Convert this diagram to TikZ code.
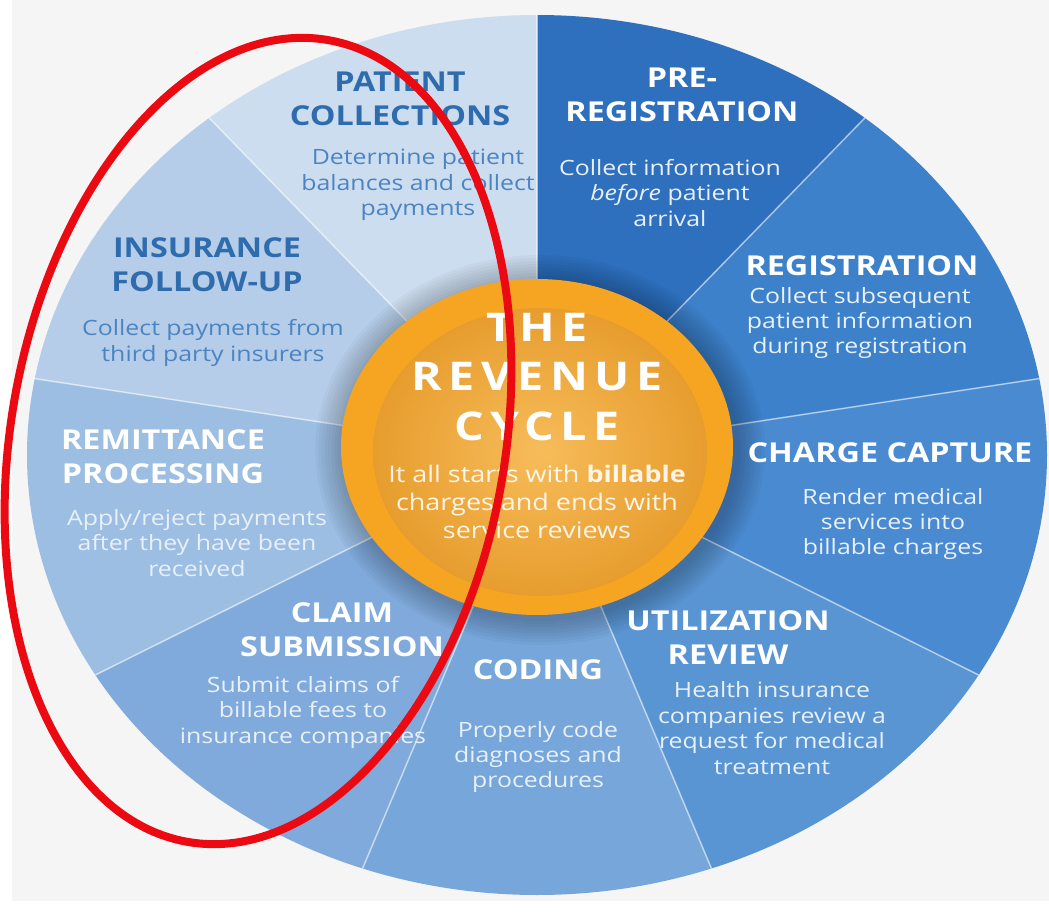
\documentclass[tikz,border=0pt]{standalone}
\usepackage{fontspec}
\setmainfont{Open Sans}[FakeStretch=1.18]
\usetikzlibrary{calc}
\definecolor{bgc}{HTML}{F5F5F5}
\definecolor{cPre}{HTML}{2E6FBE}
\definecolor{cReg}{HTML}{3C81CA}
\definecolor{cChg}{HTML}{4A8AD0}
\definecolor{cUti}{HTML}{5A95D3}
\definecolor{cCod}{HTML}{76A6DA}
\definecolor{cClm}{HTML}{80AADB}
\definecolor{cRem}{HTML}{9CBEE3}
\definecolor{cIns}{HTML}{B5CDE8}
\definecolor{cPat}{HTML}{CCDDEF}
\definecolor{tBlue}{HTML}{2F6CAE}
\definecolor{dBlue}{HTML}{4C84C2}
\definecolor{dWhite}{HTML}{E8F0F9}
\definecolor{orOut}{HTML}{F6A523}
\definecolor{orIn}{HTML}{F7BC5A}
\definecolor{orRim}{HTML}{E79D2E}
\definecolor{redL}{HTML}{EC0A12}
\begin{document}
\begin{tikzpicture}[x=0.02cm,y=-0.02cm,
  ttl/.style={font=\bfseries\fontsize{15.6}{19.3}\selectfont, align=center, inner sep=0pt, text=white},
  ttlb/.style={ttl, text=tBlue},
  dsc/.style={font=\fontsize{12}{14.5}\selectfont, align=center, inner sep=0pt, text=dWhite},
  dscb/.style={dsc, text=dBlue},
  big/.style={font=\bfseries\fontsize{22.5}{28}\selectfont\addfontfeatures{LetterSpace=16}, inner sep=0pt, text=white},
  sub/.style={font=\fontsize{13}{15.9}\selectfont, align=center, inner sep=0pt, text=white, text opacity=0.88},
  sep/.style={draw=white, draw opacity=0.55, line width=0.03cm}]
\useasboundingbox (0,0) rectangle (1049,913);
\fill[white] (0,0) rectangle (1049,913);
\fill[bgc] (12,0) rectangle (1049,901);
% slices
\begin{scope}[shift={(537,455)}]
\foreach \a/\b/\c in {-90/-50/cPre,-50/-10/cReg,-10/30/cChg,30/70/cUti,70/110/cCod,110/150/cClm,150/190/cRem,190/230/cIns,230/270/cPat}
  \fill[\c] (0,0) -- (\a:510 and 440) arc[start angle=\a, end angle=\b, x radius=510, y radius=440] -- cycle;
\foreach \a in {-90,-50,-10,30,70,110,150,190,230}
  \draw[sep] (0,0) -- (\a:510 and 440);
\end{scope}
% shadow around the orange disc
\foreach \r in {1,...,9}
  \fill[black, opacity=0.028] (540,450) ellipse [x radius={196+\r*3.2}, y radius={168+\r*3}];
% orange disc
\fill[orOut] (537,447) ellipse [x radius=196, y radius=168];
\shade[inner color=orIn, outer color=orRim] (540,452) ellipse [x radius=167, y radius=144];
% centre texts
\node[big] (tthe) at (537,327) {THE};
\node[big] (trev) at (537,377) {REVENUE};
\node[big] (tcyc) at (537,426) {CYCLE};
\node[sub] (tsub) at (537,502) {It all starts with \textbf{billable}\\charges and ends with\\service reviews};
% slice texts
\node[ttlb] (patT) at (400,99) {PATIENT\\COLLECTIONS};
\node[dscb] (patD) at (418,185) {Determine patient\\balances and collect\\payments};
\node[ttl] (preT) at (682,95) {PRE-\\REGISTRATION};
\node[dsc] (preD) at (670,193) {Collect information\\\textit{before} patient\\arrival};
\node[ttl] (regT) at (862,266) {REGISTRATION};
\node[dsc] (regD) at (860,323) {Collect subsequent\\patient information\\during registration};
\node[ttl] (chgT) at (890,453) {CHARGE CAPTURE};
\node[dsc] (chgD) at (893,524) {Render medical\\services into\\billable charges};
\node[ttl] (utiT) at (728,638) {UTILIZATION\\REVIEW};
\node[dsc] (utiD) at (772,728) {Health insurance\\companies review a\\request for medical\\treatment};
\node[ttl] (codT) at (538,670) {CODING};
\node[dsc] (codD) at (538,757) {Properly code\\diagnoses and\\procedures};
\node[ttl] (clmT) at (342,630) {CLAIM\\SUBMISSION};
\node[dsc] (clmD) at (303,712) {Submit claims of\\billable fees to\\insurance companies};
\node[ttl] (remT) at (163,457) {REMITTANCE\\PROCESSING};
\node[dsc] (remD) at (197,543) {Apply/reject payments\\after they have been\\received};
\node[ttlb] (insT) at (207,265) {INSURANCE\\FOLLOW-UP};
\node[dscb] (insD) at (213,343) {Collect payments from\\third party insurers};
% red highlight ellipse
\draw[redL, line width=0.16cm, rotate around={-10:(258,441)}] (258,441) ellipse [x radius=247, y radius=407];
\end{tikzpicture}
\end{document}
